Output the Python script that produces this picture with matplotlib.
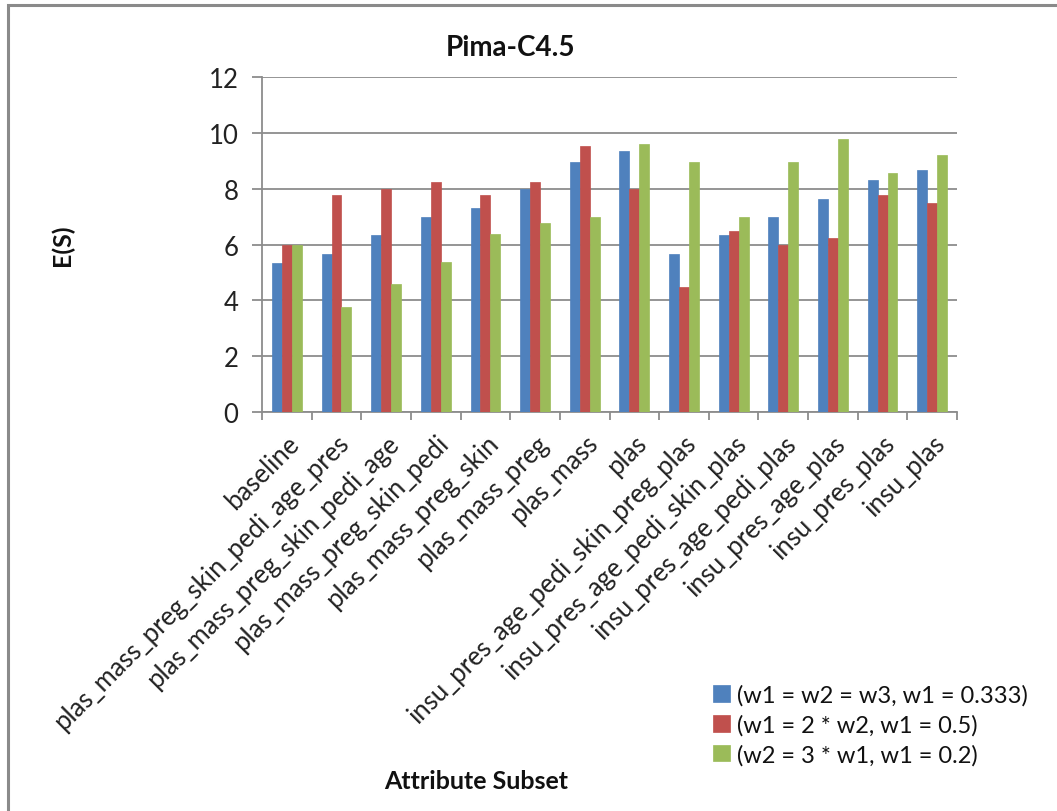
import matplotlib
matplotlib.use("Agg")
import matplotlib.pyplot as plt
from matplotlib.patches import Rectangle
import numpy as np

plt.rcParams['font.family'] = ['Lato', 'DejaVu Sans']

categories = [
    "baseline",
    "plas_mass_preg_skin_pedi_age_pres",
    "plas_mass_preg_skin_pedi_age",
    "plas_mass_preg_skin_pedi",
    "plas_mass_preg_skin",
    "plas_mass_preg",
    "plas_mass",
    "plas",
    "insu_pres_age_pedi_skin_preg_plas",
    "insu_pres_age_pedi_skin_plas",
    "insu_pres_age_pedi_plas",
    "insu_pres_age_plas",
    "insu_pres_plas",
    "insu_plas",
]

series_names = [
    "(w1 = w2 = w3, w1 = 0.333)",
    "(w1 = 2 * w2, w1 = 0.5)",
    "(w2 = 3 * w1, w1 = 0.2)",
]

equal_weights = [5.35, 5.65, 6.33, 7.0, 7.31, 8.0, 8.97, 9.34, 5.65, 6.33, 7.0, 7.63, 8.3, 8.66]
double_w1 = [6.0, 7.76, 8.0, 8.25, 7.76, 8.25, 9.52, 8.0, 4.49, 6.5, 6.0, 6.23, 7.77, 7.5]
triple_w2 = [6.0, 3.76, 4.57, 5.39, 6.38, 6.78, 7.0, 9.6, 8.97, 7.0, 8.97, 9.78, 8.57, 9.19]

colors = ["#4F81BD", "#C0504D", "#9BBB59"]

fig = plt.figure(figsize=(10.57, 8.12), dpi=100)
ax = fig.add_axes([0.2479, 0.4914, 0.6575, 0.4125])

x = np.arange(len(categories))
width = 0.2
for i, (vals, col, name) in enumerate(zip([equal_weights, double_w1, triple_w2], colors, series_names)):
    ax.bar(x + (i - 1) * width, vals, width, color=col, label=name, zorder=3,
           edgecolor=col, linewidth=0.5)

ax.set_xlim(-0.5, len(categories) - 0.5)
ax.set_ylim(0, 12)
ax.set_yticks(range(0, 13, 2))
ax.yaxis.grid(True, color="#8C8C8C", linewidth=1.3, zorder=0)
ax.set_axisbelow(True)

for side in ("top", "right"):
    ax.spines[side].set_visible(False)
for side in ("left", "bottom"):
    ax.spines[side].set_color("#8C8C8C")
    ax.spines[side].set_linewidth(1.3)

ax.tick_params(axis="y", length=7, width=1.3, color="#8C8C8C", labelsize=18.5, pad=10,
               labelcolor="#222222")
ax.set_xticks(x)
ax.set_xticklabels(categories, rotation=45, ha="right", rotation_mode="anchor",
                   fontsize=18.5, color="#222222")
ax.tick_params(axis="x", length=0, pad=13)
ax.set_xticks(np.arange(-0.5, len(categories), 1), minor=True)
ax.tick_params(axis="x", which="minor", length=6, width=1.3, color="#8C8C8C")

fig.text(511 / 1057, 1 - 48 / 812, "Pima-C4.5", ha="center", va="center",
         fontsize=20, fontweight="bold", color="#111111")
fig.text(62 / 1057, 1 - 245 / 812, "E(S)", ha="center", va="center", rotation=90,
         fontsize=18, fontweight="bold", color="#111111")
fig.text(476 / 1057, 1 - 782 / 812, "Attribute Subset", ha="center", va="center",
         fontsize=18, fontweight="bold", color="#111111")

fig.legend(loc="upper left", bbox_to_anchor=(692 / 1057, 1 - 664 / 812), frameon=False,
           fontsize=17, handlelength=0.7, handleheight=0.7, handletextpad=0.3,
           labelspacing=0.35, labelcolor="#111111")

fig.add_artist(Rectangle((8 / 1057, -0.2), 1.2, 1.2 - 6 / 812, transform=fig.transFigure,
                         fill=False, edgecolor="#8A8A8A", linewidth=2.2))

fig.savefig("out.png", dpi=100, facecolor="white")
